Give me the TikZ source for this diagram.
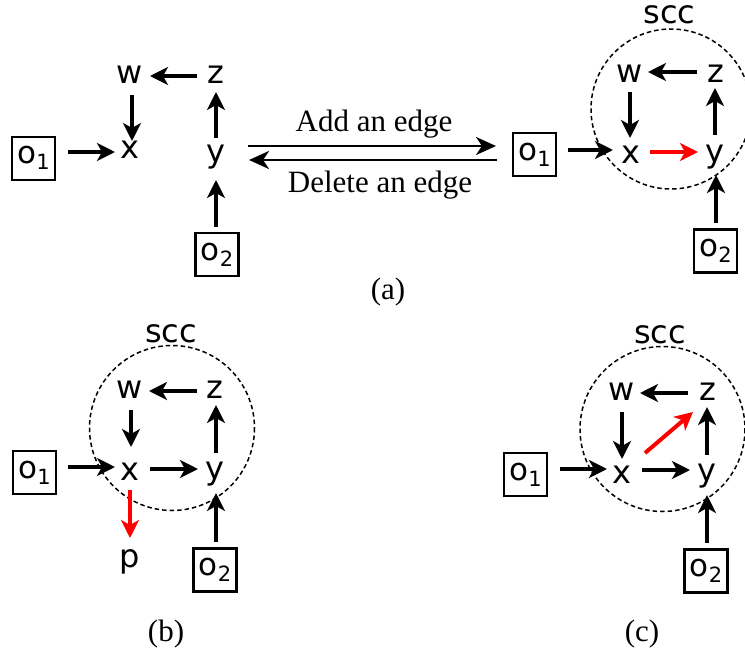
\documentclass[tikz,border=0pt]{standalone}
\usepackage{fontspec}
\setmainfont{Liberation Serif}
\newfontfamily\labfont{DejaVu Sans}
\usetikzlibrary{arrows.meta}
\newcommand\osub[1]{\raisebox{-6pt}{\fontsize{21}{21}\selectfont #1}}
\tikzset{
  lett/.style={font=\labfont\fontsize{32}{32}\selectfont, inner sep=0pt, anchor=base},
  obox/.style={draw, line width=2.4pt, minimum size=43pt, inner sep=0pt, font=\labfont\fontsize{31}{31}\selectfont},
  arr/.style={line width=4pt, -{Stealth[length=18pt,width=18pt,inset=5pt]}},
  redarr/.style={arr, draw=red, color=red},
  bigarr/.style={line width=2.5pt, -{Stealth[length=20pt,width=18pt,inset=6pt]}},
  caption/.style={font=\fontsize{31}{31}\selectfont, inner sep=0pt, anchor=base},
  sccring/.style={draw, line width=1.5pt, dash pattern=on 4.5pt off 3pt},
}
\begin{document}
\begin{tikzpicture}[x=1pt,y=-1pt]
\useasboundingbox (0,0) rectangle (745,651);
% ---------- (a) left ----------
\node[lett] (aw) at (130,83) {w};
\node[lett] (az) at (216,83) {z};
\node[lett] (ax) at (130,158) {x};
\node[lett] (ay) at (216,162) {y};
\node[obox] (ao1) at (33.5,158.3) {o\osub{1}};
\node[obox] (ao2) at (217,254.7) {o\osub{2}};
\draw[arr] ([shift={(2,12)}]aw.base) -- ([shift={(2,-17)}]ax.base);
\draw[arr] ([shift={(-19,-7)}]az.base) -- ([shift={(20,-7)}]aw.base);
\draw[arr] ([shift={(0,-24)}]ay.base) -- ([shift={(0,9)}]az.base);
\draw[arr] ([shift={(34.5,-6.3)}]ao1.center) -- ([shift={(-15,-6)}]ax.base);
\draw[arr] ([shift={(-1,-28)}]ao2.center) -- ([shift={(0,18)}]ay.base);
% ---------- (a) middle ----------
\coordinate (addL) at (248,146);
\coordinate (addR) at (496,146);
\coordinate (delR) at (497,160);
\coordinate (delL) at (249,160);
\draw[bigarr] (addL) -- (addR);
\draw[bigarr] (delR) -- (delL);
\node[caption] (addlab) at (374,131) {Add an edge};
\node[caption] (dellab) at (380,192.6) {Delete an edge};
\node[caption] (capa) at (388,299) {(a)};
% ---------- (a) right ----------
\draw[sccring] (671,109) circle[radius=80];
\node[lett] (rscc) at (669.5,23) {scc};
\node[lett] (rw) at (629.5,82) {w};
\node[lett] (rz) at (715.5,82) {z};
\node[lett] (rx) at (631,163) {x};
\node[lett] (ry) at (715,162) {y};
\node[obox] (ro1) at (534.5,154.5) {o\osub{1}};
\node[obox] (ro2) at (715.5,251) {o\osub{2}};
\draw[arr] ([shift={(0.5,10)}]rw.base) -- ([shift={(-1,-25)}]rx.base);
\draw[arr] ([shift={(-18.5,-10)}]rz.base) -- ([shift={(18.5,-10)}]rw.base);
\draw[arr] ([shift={(0,-27)}]ry.base) -- ([shift={(-0.5,6)}]rz.base);
\draw[redarr] ([shift={(19,-11)}]rx.base) -- ([shift={(-17,-10)}]ry.base);
\draw[arr] ([shift={(33.5,-4.5)}]ro1.center) -- ([shift={(-18,-13)}]rx.base);
\draw[arr] ([shift={(0.5,-28)}]ro2.center) -- ([shift={(1,13)}]ry.base);
% ---------- (b) ----------
\draw[sccring] (172,428) circle[radius=82.5];
\node[lett] (bscc) at (171,342) {scc};
\node[lett] (bw) at (130,398) {w};
\node[lett] (bz) at (215,398) {z};
\node[lett] (bx) at (130,480) {x};
\node[lett] (by) at (215,479) {y};
\node[lett] (bp) at (130,567) {p};
\node[obox] (bo1) at (34.5,472.5) {o\osub{1}};
\node[obox] (bo2) at (215,570) {o\osub{2}};
\draw[arr] ([shift={(1,12)}]bw.base) -- ([shift={(1,-33)}]bx.base);
\draw[arr] ([shift={(-18,-7)}]bz.base) -- ([shift={(19,-7)}]bw.base);
\draw[arr] ([shift={(1,-26)}]by.base) -- ([shift={(1,7)}]bz.base);
\draw[arr] ([shift={(20,-11)}]bx.base) -- ([shift={(-17,-10)}]by.base);
\draw[arr] ([shift={(33.5,-5.5)}]bo1.center) -- ([shift={(-15,-13)}]bx.base);
\draw[arr] ([shift={(1,-28)}]bo2.center) -- ([shift={(1,14)}]by.base);
\draw[redarr] ([shift={(0,10)}]bx.base) -- ([shift={(0,-29)}]bp.base);
\node[caption] (capb) at (166,641) {(b)};
% ---------- (c) ----------
\draw[sccring] (662.5,429) circle[radius=82.5];
\node[lett] (cscc) at (660,343) {scc};
\node[lett] (cw) at (622,400) {w};
\node[lett] (cz) at (707.5,400) {z};
\node[lett] (cx) at (622,483) {x};
\node[lett] (cy) at (707,481) {y};
\node[obox] (co1) at (525.5,474.5) {o\osub{1}};
\node[obox] (co2) at (706,571) {o\osub{2}};
\draw[arr] ([shift={(0,12)}]cw.base) -- ([shift={(0,-24)}]cx.base);
\draw[arr] ([shift={(-19.5,-7)}]cz.base) -- ([shift={(18,-7)}]cw.base);
\draw[arr] ([shift={(0,-26)}]cy.base) -- ([shift={(-0.5,7)}]cz.base);
\draw[arr] ([shift={(20,-13)}]cx.base) -- ([shift={(-17,-11)}]cy.base);
\draw[arr] ([shift={(34.5,-5.5)}]co1.center) -- ([shift={(-15,-14)}]cx.base);
\draw[arr] ([shift={(1,-28)}]co2.center) -- ([shift={(0,14)}]cy.base);
\draw[redarr] ([shift={(23,-30)}]cx.base) -- ([shift={(-14.5,12)}]cz.base);
\node[caption] (capc) at (642,641) {(c)};
\end{tikzpicture}
\end{document}
